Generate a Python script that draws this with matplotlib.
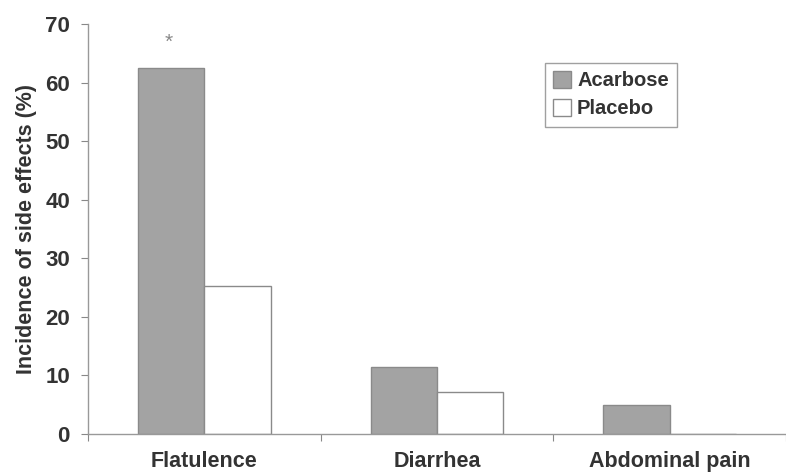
import matplotlib
matplotlib.use("Agg")
import matplotlib.pyplot as plt
import numpy as np

categories = ["Flatulence", "Diarrhea", "Abdominal pain"]
acarbose = [62.5, 11.4, 5.0]
placebo = [25.3, 7.2, 0.0]
yticks = [0, 10, 20, 30, 40, 50, 60, 70]

plt.rcParams['font.family'] = ['Liberation Sans', 'DejaVu Sans']
fig = plt.figure(figsize=(7.86, 4.74), dpi=100)
ax = fig.add_axes([0.112, 0.0844, 0.888, 0.865])

x = np.arange(len(categories))
w = 0.285
ax.bar(x - w/2, acarbose, w, color="#a3a3a3", edgecolor="#8a8a8a", linewidth=1, label="Acarbose")
ax.bar(x + w/2, placebo, w, color="white", edgecolor="#8a8a8a", linewidth=1, label="Placebo")

ax.text(x[0] - w/2 - 0.01, 66.8, "*", ha="center", va="center", fontsize=15, color="#888888")

ax.set_xlim(-0.5, 2.47)
ax.set_ylim(0, 70)
ax.set_yticks(yticks)
ax.set_yticklabels([str(t) for t in yticks], fontsize=16, fontweight="bold", color="#333333")
ax.set_xticks(np.arange(-0.5, 3.0, 1.0))
ax.set_xticklabels([])
ax.set_xticks(x, minor=True)
ax.set_xticklabels(categories, minor=True, fontsize=15.5, fontweight="bold", color="#333333")
ax.tick_params(axis="x", which="minor", length=0, pad=12)
ax.tick_params(axis="x", which="major", length=5, color="#888888", direction="out")
ax.tick_params(axis="y", length=5, color="#888888", direction="out", pad=8)

for s in ["top", "right"]:
    ax.spines[s].set_visible(False)
for s in ["left", "bottom"]:
    ax.spines[s].set_color("#999999")
    ax.spines[s].set_linewidth(1)

ax.set_ylabel("Incidence of side effects (%)", fontsize=15.5, fontweight="bold", color="#333333", labelpad=6)

leg = ax.legend(loc="upper left", bbox_to_anchor=(0.64, 0.93), fontsize=14.5, frameon=True,
                fancybox=False, edgecolor="#888888", handlelength=0.9, handleheight=0.9,
                handletextpad=0.3, borderpad=0.4, labelspacing=0.45)
for t in leg.get_texts():
    t.set_fontweight("bold")
    t.set_color("#333333")
leg.get_frame().set_linewidth(1)

fig.savefig("out.png", dpi=100)
